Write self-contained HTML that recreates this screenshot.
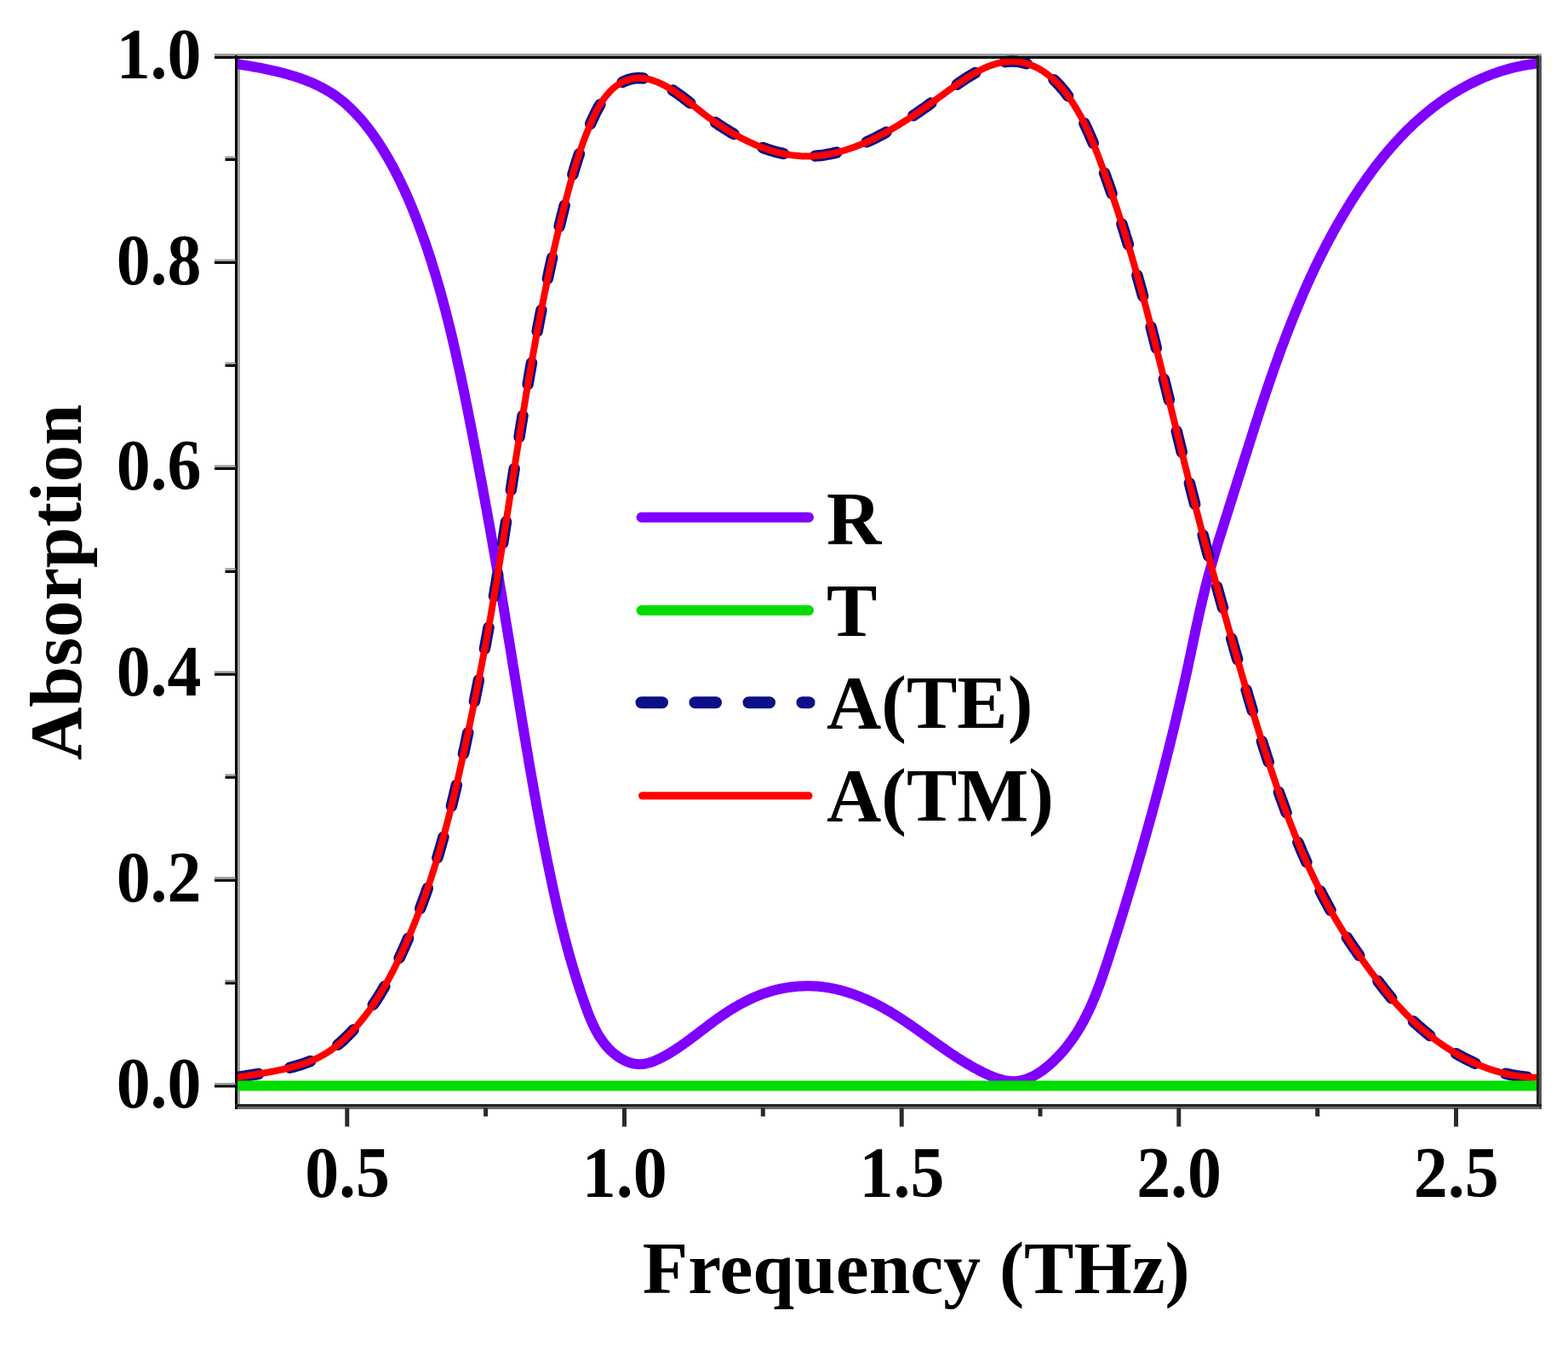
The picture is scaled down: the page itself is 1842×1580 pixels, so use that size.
<!DOCTYPE html>
<html><head><meta charset="utf-8"><title>Absorption spectrum</title>
<style>html,body{margin:0;padding:0;background:#fff;width:1842px;height:1580px;overflow:hidden}svg{display:block}</style>
</head><body>
<svg width="1842" height="1580" viewBox="0 0 1842 1580">
<rect width="1842" height="1580" fill="#fff"/>
<defs><clipPath id="c"><rect x="277" y="56.0" width="1531" height="1243.5"/></clipPath></defs>
<g shape-rendering="crispEdges">
<rect x="252" y="63" width="1559" height="2.6" fill="#9a9a9a"/>
<rect x="279" y="68" width="2.6" height="1229" fill="#a0a0a0"/>
<rect x="279" y="1300" width="1532" height="2.8" fill="#6a6a6a"/>
<rect x="1808" y="66" width="3" height="1236.8" fill="#555"/>
</g>
<g clip-path="url(#c)" fill="none" stroke-linejoin="round">
<path d="M278.1,75.1 280.3,75.5 282.5,75.8 284.8,76.2 287.0,76.6 289.2,76.9 291.5,77.3 293.7,77.7 296.0,78.1 298.3,78.5 300.5,78.9 302.8,79.3 305.1,79.7 307.4,80.2 309.7,80.6 312.0,81.1 314.3,81.6 316.6,82.1 318.9,82.6 321.2,83.1 323.5,83.6 325.7,84.1 328.0,84.7 330.3,85.3 332.6,85.9 334.9,86.5 337.2,87.1 339.4,87.7 341.7,88.4 343.9,89.1 346.2,89.8 348.4,90.5 350.6,91.2 352.9,92.0 355.1,92.8 357.3,93.6 359.5,94.4 361.6,95.3 363.8,96.2 365.9,97.1 368.1,98.0 370.2,99.0 372.3,99.9 374.4,101.0 376.4,102.0 378.5,103.1 380.5,104.1 382.5,105.3 384.5,106.4 386.5,107.6 388.4,108.8 390.4,110.1 392.3,111.3 394.2,112.6 396.0,114.0 397.9,115.4 399.7,116.8 401.5,118.2 403.3,119.6 405.0,121.1 406.7,122.6 408.5,124.2 410.2,125.7 411.8,127.3 413.5,128.9 415.1,130.5 416.7,132.2 418.3,133.9 419.9,135.5 421.5,137.3 423.0,139.0 424.6,140.8 426.1,142.5 427.6,144.3 429.0,146.1 430.5,148.0 431.9,149.8 433.4,151.6 434.8,153.5 436.2,155.4 437.5,157.3 438.9,159.2 440.2,161.1 441.6,163.1 442.9,165.0 444.2,167.0 445.5,168.9 446.8,170.9 448.0,172.9 449.3,174.9 450.5,176.8 451.7,178.8 452.9,180.9 454.1,182.9 455.3,184.9 456.4,186.9 457.6,188.9 458.7,191.0 459.9,193.0 461.0,195.0 462.1,197.1 463.2,199.1 464.3,201.2 465.3,203.3 466.4,205.3 467.4,207.4 468.5,209.5 469.5,211.6 470.5,213.7 471.5,215.8 472.5,217.9 473.5,220.0 474.5,222.1 475.5,224.2 476.4,226.3 477.4,228.4 478.3,230.5 479.2,232.6 480.2,234.8 481.1,236.9 482.0,239.0 482.9,241.2 483.8,243.3 484.6,245.5 485.5,247.6 486.4,249.8 487.2,251.9 488.1,254.1 488.9,256.2 489.7,258.4 490.6,260.6 491.4,262.7 492.2,264.9 493.0,267.1 493.8,269.3 494.6,271.4 495.4,273.6 496.2,275.8 497.0,278.0 497.7,280.2 498.5,282.4 499.3,284.5 500.0,286.7 500.8,288.9 501.5,291.1 502.3,293.3 503.0,295.5 503.7,297.7 504.4,299.9 505.1,302.1 505.9,304.3 506.6,306.5 507.3,308.7 508.0,311.0 508.6,313.2 509.3,315.4 510.0,317.6 510.7,319.8 511.4,322.0 512.0,324.3 512.7,326.5 513.3,328.7 514.0,330.9 514.6,333.2 515.3,335.4 515.9,337.6 516.5,339.9 517.2,342.1 517.8,344.3 518.4,346.6 519.0,348.8 519.6,351.1 520.2,353.3 520.8,355.5 521.4,357.8 522.0,360.0 522.6,362.3 523.2,364.5 523.8,366.8 524.4,369.0 524.9,371.3 525.5,373.5 526.1,375.8 526.6,378.0 527.2,380.3 527.8,382.5 528.3,384.8 528.9,387.1 529.4,389.3 530.0,391.6 530.5,393.8 531.0,396.1 531.6,398.4 532.1,400.6 532.6,402.9 533.1,405.2 533.7,407.4 534.2,409.7 534.7,412.0 535.2,414.2 535.7,416.5 536.2,418.8 536.7,421.1 537.2,423.3 537.7,425.6 538.2,427.9 538.7,430.2 539.2,432.4 539.7,434.7 540.2,437.0 540.7,439.3 541.2,441.5 541.7,443.8 542.1,446.1 542.6,448.4 543.1,450.6 543.6,452.9 544.0,455.2 544.5,457.5 545.0,459.8 545.4,462.0 545.9,464.3 546.4,466.6 546.8,468.9 547.3,471.2 547.7,473.5 548.2,475.7 548.7,478.0 549.1,480.3 549.6,482.6 550.0,484.9 550.5,487.2 550.9,489.4 551.4,491.7 551.8,494.0 552.3,496.3 552.7,498.6 553.2,500.9 553.6,503.1 554.1,505.4 554.5,507.7 554.9,510.0 555.4,512.3 555.8,514.6 556.3,516.8 556.7,519.1 557.1,521.4 557.6,523.7 558.0,526.0 558.5,528.2 558.9,530.5 559.3,532.8 559.8,535.1 560.2,537.4 560.6,539.7 561.1,541.9 561.5,544.2 561.9,546.5 562.4,548.8 562.8,551.1 563.2,553.4 563.7,555.6 564.1,557.9 564.5,560.2 564.9,562.5 565.4,564.8 565.8,567.0 566.2,569.3 566.6,571.6 567.1,573.9 567.5,576.2 567.9,578.5 568.3,580.7 568.7,583.0 569.2,585.3 569.6,587.6 570.0,589.9 570.4,592.2 570.8,594.4 571.3,596.7 571.7,599.0 572.1,601.3 572.5,603.6 572.9,605.8 573.3,608.1 573.7,610.4 574.1,612.7 574.6,615.0 575.0,617.3 575.4,619.6 575.8,621.8 576.2,624.1 576.6,626.4 577.0,628.7 577.4,631.0 577.8,633.3 578.2,635.5 578.6,637.8 579.0,640.1 579.4,642.4 579.8,644.7 580.2,647.0 580.6,649.3 581.0,651.5 581.4,653.8 581.8,656.1 582.2,658.4 582.6,660.7 583.0,663.0 583.4,665.3 583.8,667.6 584.2,669.8 584.6,672.1 585.0,674.4 585.4,676.7 585.8,679.0 586.2,681.3 586.6,683.6 586.9,685.9 587.3,688.1 587.7,690.4 588.1,692.7 588.5,695.0 588.9,697.3 589.3,699.6 589.7,701.9 590.0,704.2 590.4,706.5 590.8,708.8 591.2,711.1 591.6,713.4 591.9,715.6 592.3,717.9 592.7,720.2 593.1,722.5 593.5,724.8 593.8,727.1 594.2,729.4 594.6,731.7 595.0,734.0 595.4,736.3 595.7,738.6 596.1,740.9 596.5,743.2 596.9,745.5 597.2,747.8 597.6,750.1 598.0,752.4 598.3,754.7 598.7,756.9 599.1,759.2 599.5,761.5 599.8,763.8 600.2,766.1 600.6,768.4 601.0,770.7 601.3,773.0 601.7,775.3 602.1,777.6 602.4,779.9 602.8,782.2 603.2,784.5 603.6,786.8 603.9,789.1 604.3,791.4 604.7,793.7 605.0,796.0 605.4,798.3 605.8,800.6 606.2,802.9 606.5,805.2 606.9,807.5 607.3,809.8 607.6,812.1 608.0,814.4 608.4,816.7 608.8,819.0 609.1,821.3 609.5,823.6 609.9,825.9 610.3,828.2 610.6,830.5 611.0,832.8 611.4,835.0 611.8,837.3 612.1,839.6 612.5,841.9 612.9,844.2 613.3,846.5 613.6,848.8 614.0,851.1 614.4,853.4 614.8,855.7 615.2,858.0 615.5,860.3 615.9,862.6 616.3,864.9 616.7,867.2 617.1,869.5 617.5,871.8 617.8,874.1 618.2,876.4 618.6,878.7 619.0,881.0 619.4,883.2 619.8,885.5 620.2,887.8 620.6,890.1 620.9,892.4 621.3,894.7 621.7,897.0 622.1,899.3 622.5,901.6 622.9,903.9 623.3,906.2 623.7,908.5 624.1,910.7 624.5,913.0 624.9,915.3 625.3,917.6 625.7,919.9 626.1,922.2 626.5,924.5 626.9,926.8 627.3,929.1 627.7,931.3 628.1,933.6 628.6,935.9 629.0,938.2 629.4,940.5 629.8,942.8 630.2,945.1 630.6,947.3 631.0,949.6 631.5,951.9 631.9,954.2 632.3,956.5 632.7,958.8 633.1,961.0 633.6,963.3 634.0,965.6 634.4,967.9 634.9,970.2 635.3,972.4 635.7,974.7 636.2,977.0 636.6,979.3 637.0,981.6 637.5,983.8 637.9,986.1 638.4,988.4 638.8,990.7 639.2,992.9 639.7,995.2 640.1,997.5 640.6,999.8 641.0,1002.0 641.5,1004.3 642.0,1006.6 642.4,1008.9 642.9,1011.1 643.3,1013.4 643.8,1015.7 644.3,1017.9 644.7,1020.2 645.2,1022.5 645.7,1024.7 646.1,1027.0 646.6,1029.3 647.1,1031.5 647.6,1033.8 648.1,1036.1 648.5,1038.3 649.0,1040.6 649.5,1042.8 650.0,1045.1 650.5,1047.4 651.0,1049.6 651.5,1051.9 652.0,1054.1 652.5,1056.4 653.0,1058.7 653.5,1060.9 654.0,1063.2 654.5,1065.4 655.1,1067.7 655.6,1069.9 656.1,1072.2 656.7,1074.5 657.2,1076.7 657.7,1079.0 658.3,1081.2 658.8,1083.5 659.4,1085.7 659.9,1088.0 660.5,1090.2 661.0,1092.5 661.6,1094.7 662.2,1097.0 662.8,1099.2 663.3,1101.4 663.9,1103.7 664.5,1105.9 665.1,1108.2 665.7,1110.4 666.3,1112.7 666.9,1114.9 667.5,1117.1 668.1,1119.4 668.8,1121.6 669.4,1123.9 670.0,1126.1 670.7,1128.3 671.3,1130.6 672.0,1132.8 672.6,1135.1 673.3,1137.3 674.0,1139.5 674.6,1141.8 675.3,1144.0 676.0,1146.2 676.7,1148.5 677.4,1150.7 678.1,1152.9 678.8,1155.2 679.5,1157.4 680.3,1159.6 681.0,1161.9 681.7,1164.1 682.5,1166.3 683.2,1168.5 684.0,1170.8 684.7,1173.0 685.5,1175.2 686.3,1177.4 687.1,1179.7 687.9,1181.9 688.7,1184.1 689.5,1186.3 690.3,1188.5 691.2,1190.7 692.0,1192.9 692.9,1195.1 693.8,1197.3 694.7,1199.4 695.7,1201.6 696.7,1203.7 697.7,1205.8 698.7,1207.9 699.8,1209.9 700.8,1212.0 702.0,1214.0 703.1,1215.9 704.3,1217.9 705.6,1219.8 706.9,1221.7 708.2,1223.6 709.6,1225.4 711.0,1227.2 712.4,1228.9 714.0,1230.6 715.5,1232.3 717.1,1233.9 718.8,1235.5 720.5,1237.0 722.3,1238.5 724.2,1239.9 726.1,1241.3 728.0,1242.6 730.0,1243.8 732.1,1244.9 734.2,1246.0 736.3,1246.9 738.4,1247.8 740.6,1248.5 742.8,1249.1 745.0,1249.6 747.2,1249.9 749.4,1250.1 751.6,1250.2 753.8,1250.1 756.1,1249.9 758.3,1249.5 760.5,1249.0 762.7,1248.5 764.9,1247.8 767.1,1247.0 769.3,1246.2 771.4,1245.2 773.6,1244.2 775.7,1243.2 777.8,1242.1 779.9,1241.0 782.0,1239.9 784.1,1238.7 786.1,1237.5 788.1,1236.3 790.1,1235.0 792.1,1233.8 794.1,1232.5 796.0,1231.2 798.0,1229.9 799.9,1228.6 801.8,1227.3 803.7,1225.9 805.6,1224.6 807.4,1223.2 809.3,1221.9 811.2,1220.5 813.0,1219.1 814.9,1217.7 816.7,1216.3 818.6,1214.9 820.4,1213.5 822.2,1212.1 824.1,1210.7 825.9,1209.3 827.8,1207.9 829.6,1206.5 831.5,1205.1 833.3,1203.7 835.2,1202.3 837.0,1200.9 838.9,1199.5 840.8,1198.1 842.7,1196.8 844.6,1195.4 846.5,1194.1 848.4,1192.8 850.4,1191.5 852.3,1190.2 854.3,1188.9 856.2,1187.6 858.2,1186.4 860.2,1185.2 862.2,1183.9 864.2,1182.8 866.3,1181.6 868.3,1180.4 870.4,1179.3 872.4,1178.2 874.5,1177.1 876.6,1176.0 878.7,1175.0 880.8,1174.0 882.9,1173.0 885.0,1172.0 887.1,1171.1 889.3,1170.2 891.4,1169.3 893.6,1168.5 895.8,1167.7 898.0,1166.9 900.2,1166.2 902.4,1165.5 904.6,1164.8 906.8,1164.1 909.0,1163.5 911.3,1162.9 913.5,1162.4 915.7,1161.9 918.0,1161.4 920.3,1161.0 922.5,1160.5 924.8,1160.2 927.1,1159.8 929.4,1159.5 931.7,1159.2 933.9,1159.0 936.2,1158.8 938.5,1158.6 940.8,1158.5 943.1,1158.4 945.4,1158.3 947.7,1158.3 950.0,1158.3 952.3,1158.3 954.7,1158.4 957.0,1158.5 959.3,1158.6 961.6,1158.8 963.9,1159.0 966.2,1159.3 968.5,1159.6 970.8,1159.9 973.0,1160.3 975.3,1160.6 977.6,1161.1 979.9,1161.5 982.2,1162.0 984.4,1162.6 986.7,1163.1 989.0,1163.7 991.2,1164.4 993.5,1165.0 995.7,1165.7 997.9,1166.4 1000.2,1167.2 1002.4,1167.9 1004.6,1168.7 1006.8,1169.6 1009.0,1170.4 1011.2,1171.3 1013.3,1172.2 1015.5,1173.1 1017.7,1174.0 1019.8,1175.0 1021.9,1176.0 1024.1,1177.0 1026.2,1178.0 1028.3,1179.1 1030.4,1180.1 1032.5,1181.2 1034.5,1182.3 1036.6,1183.4 1038.6,1184.6 1040.6,1185.7 1042.7,1186.9 1044.7,1188.0 1046.7,1189.2 1048.6,1190.4 1050.6,1191.6 1052.6,1192.9 1054.5,1194.1 1056.5,1195.3 1058.4,1196.6 1060.3,1197.9 1062.3,1199.1 1064.2,1200.4 1066.1,1201.7 1068.0,1203.0 1069.9,1204.3 1071.8,1205.6 1073.7,1206.9 1075.6,1208.3 1077.5,1209.6 1079.3,1210.9 1081.2,1212.3 1083.1,1213.6 1085.0,1214.9 1086.8,1216.3 1088.7,1217.6 1090.6,1219.0 1092.5,1220.3 1094.4,1221.7 1096.2,1223.0 1098.1,1224.3 1100.0,1225.7 1101.9,1227.0 1103.8,1228.3 1105.7,1229.7 1107.6,1231.0 1109.5,1232.3 1111.4,1233.6 1113.3,1235.0 1115.2,1236.3 1117.1,1237.6 1119.1,1238.8 1121.0,1240.1 1123.0,1241.4 1124.9,1242.7 1126.9,1243.9 1128.9,1245.2 1130.9,1246.4 1132.9,1247.6 1134.9,1248.8 1136.9,1250.0 1138.9,1251.2 1141.0,1252.4 1143.0,1253.6 1145.1,1254.7 1147.2,1255.8 1149.3,1257.0 1151.4,1258.0 1153.6,1259.1 1155.7,1260.2 1157.9,1261.2 1160.1,1262.2 1162.2,1263.2 1164.4,1264.1 1166.6,1265.0 1168.9,1265.9 1171.1,1266.7 1173.3,1267.4 1175.5,1268.0 1177.7,1268.6 1180.0,1269.1 1182.2,1269.5 1184.4,1269.8 1186.6,1270.0 1188.8,1270.2 1191.0,1270.2 1193.2,1270.1 1195.4,1269.9 1197.5,1269.6 1199.7,1269.2 1201.8,1268.7 1204.0,1268.1 1206.1,1267.4 1208.2,1266.6 1210.2,1265.7 1212.3,1264.8 1214.3,1263.8 1216.4,1262.7 1218.4,1261.5 1220.4,1260.3 1222.3,1259.0 1224.3,1257.7 1226.2,1256.3 1228.1,1254.8 1229.9,1253.3 1231.8,1251.8 1233.6,1250.2 1235.4,1248.6 1237.2,1247.0 1238.9,1245.3 1240.6,1243.6 1242.3,1241.9 1243.9,1240.2 1245.5,1238.4 1247.1,1236.7 1248.7,1234.9 1250.2,1233.1 1251.7,1231.3 1253.2,1229.5 1254.6,1227.6 1256.0,1225.8 1257.4,1223.9 1258.8,1222.0 1260.1,1220.1 1261.5,1218.2 1262.7,1216.3 1264.0,1214.4 1265.3,1212.4 1266.5,1210.5 1267.7,1208.5 1268.9,1206.5 1270.0,1204.5 1271.1,1202.5 1272.3,1200.5 1273.4,1198.5 1274.4,1196.4 1275.5,1194.4 1276.5,1192.3 1277.5,1190.2 1278.5,1188.2 1279.5,1186.1 1280.5,1184.0 1281.5,1181.9 1282.4,1179.8 1283.3,1177.7 1284.2,1175.5 1285.1,1173.4 1286.0,1171.3 1286.9,1169.1 1287.7,1167.0 1288.6,1164.8 1289.4,1162.6 1290.2,1160.5 1291.1,1158.3 1291.9,1156.1 1292.7,1153.9 1293.4,1151.7 1294.2,1149.6 1295.0,1147.4 1295.7,1145.2 1296.5,1143.0 1297.3,1140.7 1298.0,1138.5 1298.7,1136.3 1299.5,1134.1 1300.2,1131.9 1300.9,1129.7 1301.7,1127.5 1302.4,1125.2 1303.1,1123.0 1303.8,1120.8 1304.5,1118.6 1305.2,1116.4 1305.9,1114.2 1306.7,1111.9 1307.4,1109.7 1308.1,1107.5 1308.8,1105.3 1309.5,1103.0 1310.2,1100.8 1310.9,1098.6 1311.6,1096.4 1312.3,1094.2 1313.0,1091.9 1313.7,1089.7 1314.4,1087.5 1315.1,1085.3 1315.8,1083.1 1316.5,1080.8 1317.2,1078.6 1317.9,1076.4 1318.6,1074.2 1319.2,1071.9 1319.9,1069.7 1320.6,1067.5 1321.3,1065.3 1322.0,1063.0 1322.7,1060.8 1323.3,1058.6 1324.0,1056.4 1324.7,1054.1 1325.4,1051.9 1326.0,1049.7 1326.7,1047.5 1327.4,1045.2 1328.1,1043.0 1328.7,1040.8 1329.4,1038.6 1330.1,1036.3 1330.7,1034.1 1331.4,1031.9 1332.0,1029.6 1332.7,1027.4 1333.4,1025.2 1334.0,1023.0 1334.7,1020.7 1335.3,1018.5 1336.0,1016.3 1336.6,1014.0 1337.3,1011.8 1337.9,1009.6 1338.6,1007.3 1339.2,1005.1 1339.9,1002.9 1340.5,1000.7 1341.2,998.4 1341.8,996.2 1342.4,994.0 1343.1,991.7 1343.7,989.5 1344.3,987.3 1345.0,985.0 1345.6,982.8 1346.2,980.6 1346.9,978.3 1347.5,976.1 1348.1,973.8 1348.7,971.6 1349.4,969.4 1350.0,967.1 1350.6,964.9 1351.2,962.7 1351.8,960.4 1352.5,958.2 1353.1,955.9 1353.7,953.7 1354.3,951.5 1354.9,949.2 1355.5,947.0 1356.1,944.8 1356.7,942.5 1357.3,940.3 1357.9,938.0 1358.5,935.8 1359.1,933.5 1359.7,931.3 1360.3,929.1 1360.9,926.8 1361.5,924.6 1362.1,922.3 1362.7,920.1 1363.3,917.8 1363.9,915.6 1364.4,913.3 1365.0,911.1 1365.6,908.9 1366.2,906.6 1366.8,904.4 1367.4,902.1 1367.9,899.9 1368.5,897.6 1369.1,895.4 1369.6,893.1 1370.2,890.9 1370.8,888.6 1371.3,886.4 1371.9,884.1 1372.5,881.9 1373.0,879.6 1373.6,877.4 1374.2,875.1 1374.7,872.9 1375.3,870.6 1375.8,868.3 1376.4,866.1 1376.9,863.8 1377.5,861.6 1378.0,859.3 1378.6,857.1 1379.1,854.8 1379.7,852.6 1380.2,850.3 1380.7,848.0 1381.3,845.8 1381.8,843.5 1382.3,841.3 1382.9,839.0 1383.4,836.7 1383.9,834.5 1384.5,832.2 1385.0,830.0 1385.5,827.7 1386.0,825.4 1386.6,823.2 1387.1,820.9 1387.6,818.6 1388.1,816.4 1388.6,814.1 1389.1,811.8 1389.7,809.6 1390.2,807.3 1390.7,805.0 1391.2,802.8 1391.7,800.5 1392.2,798.2 1392.7,796.0 1393.2,793.7 1393.7,791.4 1394.2,789.1 1394.7,786.9 1395.2,784.6 1395.7,782.3 1396.2,780.0 1396.6,777.8 1397.1,775.5 1397.6,773.2 1398.1,770.9 1398.6,768.7 1399.1,766.4 1399.5,764.1 1400.0,761.8 1400.5,759.6 1401.0,757.3 1401.5,755.0 1401.9,752.7 1402.4,750.4 1402.9,748.2 1403.4,745.9 1403.9,743.6 1404.4,741.3 1404.8,739.1 1405.3,736.8 1405.8,734.5 1406.3,732.2 1406.8,730.0 1407.3,727.7 1407.8,725.4 1408.3,723.1 1408.8,720.9 1409.3,718.6 1409.8,716.3 1410.3,714.1 1410.9,711.8 1411.4,709.5 1411.9,707.3 1412.4,705.0 1413.0,702.7 1413.5,700.5 1414.1,698.2 1414.6,695.9 1415.2,693.7 1415.7,691.4 1416.3,689.2 1416.9,686.9 1417.5,684.7 1418.0,682.4 1418.6,680.2 1419.2,677.9 1419.8,675.7 1420.4,673.4 1421.1,671.2 1421.7,669.0 1422.3,666.7 1422.9,664.5 1423.6,662.3 1424.2,660.0 1424.9,657.8 1425.5,655.6 1426.2,653.3 1426.8,651.1 1427.5,648.9 1428.1,646.6 1428.8,644.4 1429.5,642.2 1430.2,640.0 1430.8,637.8 1431.5,635.5 1432.2,633.3 1432.9,631.1 1433.6,628.9 1434.3,626.7 1435.0,624.4 1435.7,622.2 1436.4,620.0 1437.1,617.8 1437.8,615.6 1438.5,613.4 1439.2,611.1 1439.9,608.9 1440.6,606.7 1441.3,604.5 1442.0,602.3 1442.7,600.1 1443.4,597.9 1444.1,595.6 1444.8,593.4 1445.5,591.2 1446.2,589.0 1446.9,586.8 1447.6,584.6 1448.3,582.4 1449.0,580.1 1449.7,577.9 1450.4,575.7 1451.1,573.5 1451.8,571.3 1452.5,569.1 1453.2,566.9 1453.9,564.6 1454.6,562.4 1455.3,560.2 1456.0,558.0 1456.7,555.8 1457.4,553.6 1458.1,551.4 1458.8,549.2 1459.5,546.9 1460.2,544.7 1460.9,542.5 1461.6,540.3 1462.3,538.1 1463.0,535.9 1463.7,533.7 1464.4,531.4 1465.1,529.2 1465.8,527.0 1466.5,524.8 1467.2,522.6 1467.9,520.4 1468.6,518.2 1469.3,516.0 1470.0,513.8 1470.7,511.5 1471.4,509.3 1472.1,507.1 1472.8,504.9 1473.5,502.7 1474.2,500.5 1474.9,498.3 1475.6,496.1 1476.3,493.9 1477.1,491.7 1477.8,489.5 1478.5,487.2 1479.2,485.0 1479.9,482.8 1480.7,480.6 1481.4,478.4 1482.1,476.2 1482.8,474.0 1483.6,471.8 1484.3,469.6 1485.0,467.4 1485.8,465.2 1486.5,463.0 1487.2,460.8 1488.0,458.6 1488.7,456.4 1489.5,454.2 1490.2,452.0 1491.0,449.8 1491.7,447.6 1492.5,445.4 1493.2,443.2 1494.0,441.0 1494.8,438.8 1495.5,436.6 1496.3,434.4 1497.1,432.2 1497.8,430.0 1498.6,427.8 1499.4,425.7 1500.2,423.5 1501.0,421.3 1501.7,419.1 1502.5,416.9 1503.3,414.7 1504.1,412.5 1504.9,410.3 1505.7,408.1 1506.5,406.0 1507.4,403.8 1508.2,401.6 1509.0,399.4 1509.8,397.2 1510.6,395.1 1511.5,392.9 1512.3,390.7 1513.1,388.5 1514.0,386.4 1514.8,384.2 1515.7,382.0 1516.5,379.9 1517.4,377.7 1518.2,375.5 1519.1,373.4 1520.0,371.2 1520.8,369.1 1521.7,366.9 1522.6,364.8 1523.5,362.6 1524.4,360.4 1525.3,358.3 1526.2,356.2 1527.1,354.0 1528.0,351.9 1528.9,349.7 1529.8,347.6 1530.7,345.5 1531.6,343.3 1532.6,341.2 1533.5,339.1 1534.4,336.9 1535.4,334.8 1536.3,332.7 1537.3,330.6 1538.3,328.4 1539.2,326.3 1540.2,324.2 1541.2,322.1 1542.2,320.0 1543.1,317.9 1544.1,315.8 1545.1,313.7 1546.1,311.6 1547.1,309.5 1548.2,307.4 1549.2,305.3 1550.2,303.3 1551.2,301.2 1552.3,299.1 1553.3,297.0 1554.4,295.0 1555.4,292.9 1556.5,290.8 1557.5,288.8 1558.6,286.7 1559.7,284.6 1560.8,282.6 1561.9,280.5 1563.0,278.5 1564.1,276.5 1565.2,274.4 1566.3,272.4 1567.4,270.4 1568.5,268.3 1569.7,266.3 1570.8,264.3 1572.0,262.3 1573.1,260.3 1574.3,258.3 1575.5,256.3 1576.6,254.3 1577.8,252.3 1579.0,250.3 1580.2,248.3 1581.4,246.3 1582.6,244.3 1583.8,242.3 1585.1,240.4 1586.3,238.4 1587.5,236.4 1588.8,234.5 1590.0,232.5 1591.3,230.6 1592.6,228.6 1593.8,226.7 1595.1,224.8 1596.4,222.8 1597.7,220.9 1599.0,219.0 1600.3,217.1 1601.7,215.1 1603.0,213.2 1604.3,211.3 1605.7,209.4 1607.0,207.5 1608.4,205.7 1609.8,203.8 1611.1,201.9 1612.5,200.0 1613.9,198.2 1615.3,196.3 1616.7,194.5 1618.2,192.6 1619.6,190.8 1621.0,189.0 1622.5,187.2 1624.0,185.3 1625.4,183.5 1626.9,181.8 1628.4,180.0 1629.9,178.2 1631.4,176.4 1632.9,174.7 1634.4,172.9 1635.9,171.2 1637.5,169.4 1639.0,167.7 1640.6,166.0 1642.2,164.3 1643.8,162.6 1645.3,160.9 1646.9,159.2 1648.6,157.5 1650.2,155.9 1651.8,154.2 1653.4,152.6 1655.1,151.0 1656.8,149.4 1658.4,147.8 1660.1,146.2 1661.8,144.6 1663.5,143.0 1665.2,141.5 1667.0,139.9 1668.7,138.4 1670.4,136.9 1672.2,135.4 1674.0,133.9 1675.8,132.4 1677.5,130.9 1679.4,129.5 1681.2,128.1 1683.0,126.6 1684.8,125.2 1686.7,123.8 1688.5,122.4 1690.4,121.1 1692.3,119.7 1694.2,118.4 1696.1,117.0 1698.0,115.7 1700.0,114.4 1701.9,113.2 1703.9,111.9 1705.8,110.6 1707.8,109.4 1709.8,108.2 1711.8,107.0 1713.8,105.8 1715.9,104.6 1717.9,103.5 1719.9,102.4 1722.0,101.2 1724.1,100.2 1726.1,99.1 1728.2,98.0 1730.3,97.0 1732.4,96.0 1734.5,95.0 1736.7,94.0 1738.8,93.0 1740.9,92.1 1743.1,91.1 1745.2,90.2 1747.4,89.4 1749.6,88.5 1751.7,87.7 1753.9,86.8 1756.1,86.1 1758.3,85.3 1760.5,84.5 1762.7,83.8 1764.9,83.1 1767.2,82.4 1769.4,81.8 1771.6,81.1 1773.8,80.5 1776.1,79.9 1778.3,79.4 1780.6,78.8 1782.8,78.3 1785.1,77.8 1787.4,77.4 1789.6,76.9 1791.9,76.5 1794.2,76.1 1796.4,75.8 1798.7,75.5 1801.0,75.2 1803.3,74.9 1805.5,74.6 1807.8,74.4" stroke="#8000FF" stroke-width="12"/>
<path d="M278.5,1265.5 280.8,1265.2 283.1,1264.8 285.4,1264.4 287.7,1264.1 290.0,1263.7 292.2,1263.3 294.5,1263.0 296.8,1262.6 299.1,1262.3 301.4,1261.9 303.7,1261.5 306.0,1261.2 308.3,1260.8 310.6,1260.4 312.8,1260.0 315.1,1259.6 317.4,1259.2 319.7,1258.8 322.0,1258.3 324.3,1257.9 326.5,1257.4 328.8,1256.9 331.1,1256.5 333.4,1256.0 335.6,1255.4 337.9,1254.9 340.2,1254.3 342.4,1253.7 344.7,1253.1 346.9,1252.5 349.2,1251.9 351.4,1251.2 353.7,1250.5 355.9,1249.8 358.1,1249.0 360.3,1248.2 362.5,1247.4 364.7,1246.5 366.8,1245.6 369.0,1244.7 371.1,1243.8 373.2,1242.8 375.3,1241.7 377.3,1240.6 379.4,1239.5 381.4,1238.3 383.4,1237.1 385.3,1235.9 387.3,1234.6 389.2,1233.3 391.0,1231.9 392.9,1230.5 394.7,1229.1 396.5,1227.6 398.3,1226.1 400.1,1224.6 401.8,1223.0 403.6,1221.5 405.3,1219.9 406.9,1218.2 408.6,1216.6 410.2,1214.9 411.9,1213.3 413.5,1211.6 415.0,1209.9 416.6,1208.1 418.1,1206.4 419.7,1204.7 421.2,1202.9 422.7,1201.1 424.1,1199.4 425.6,1197.6 427.0,1195.8 428.5,1193.9 429.9,1192.1 431.2,1190.3 432.6,1188.4 434.0,1186.6 435.3,1184.7 436.6,1182.8 437.9,1180.9 439.2,1179.0 440.5,1177.1 441.8,1175.2 443.0,1173.2 444.3,1171.3 445.5,1169.3 446.7,1167.4 447.9,1165.4 449.1,1163.4 450.3,1161.4 451.4,1159.4 452.6,1157.4 453.7,1155.4 454.8,1153.4 455.9,1151.4 457.0,1149.4 458.1,1147.3 459.2,1145.3 460.3,1143.2 461.4,1141.2 462.4,1139.1 463.4,1137.1 464.5,1135.0 465.5,1132.9 466.5,1130.8 467.5,1128.8 468.5,1126.7 469.5,1124.6 470.5,1122.5 471.5,1120.4 472.4,1118.3 473.4,1116.2 474.4,1114.1 475.3,1111.9 476.2,1109.8 477.2,1107.7 478.1,1105.6 479.0,1103.5 479.9,1101.3 480.9,1099.2 481.8,1097.1 482.7,1094.9 483.6,1092.8 484.4,1090.7 485.3,1088.5 486.2,1086.4 487.1,1084.2 487.9,1082.1 488.8,1079.9 489.6,1077.8 490.5,1075.6 491.3,1073.5 492.2,1071.3 493.0,1069.1 493.8,1067.0 494.6,1064.8 495.4,1062.6 496.2,1060.5 497.0,1058.3 497.8,1056.1 498.6,1053.9 499.4,1051.8 500.2,1049.6 500.9,1047.4 501.7,1045.2 502.5,1043.0 503.2,1040.8 504.0,1038.6 504.7,1036.5 505.4,1034.3 506.2,1032.1 506.9,1029.9 507.6,1027.7 508.3,1025.5 509.0,1023.3 509.7,1021.0 510.4,1018.8 511.1,1016.6 511.8,1014.4 512.5,1012.2 513.2,1010.0 513.8,1007.8 514.5,1005.6 515.2,1003.3 515.8,1001.1 516.5,998.9 517.1,996.7 517.8,994.4 518.4,992.2 519.0,990.0 519.7,987.7 520.3,985.5 520.9,983.3 521.5,981.0 522.1,978.8 522.7,976.6 523.3,974.3 523.9,972.1 524.5,969.9 525.1,967.6 525.7,965.4 526.3,963.1 526.9,960.9 527.5,958.6 528.0,956.4 528.6,954.1 529.2,951.9 529.7,949.6 530.3,947.4 530.8,945.1 531.4,942.9 531.9,940.6 532.5,938.4 533.0,936.1 533.6,933.8 534.1,931.6 534.6,929.3 535.2,927.1 535.7,924.8 536.2,922.5 536.7,920.3 537.3,918.0 537.8,915.8 538.3,913.5 538.8,911.2 539.3,909.0 539.8,906.7 540.3,904.4 540.8,902.2 541.3,899.9 541.8,897.6 542.3,895.3 542.8,893.1 543.3,890.8 543.8,888.5 544.3,886.3 544.8,884.0 545.3,881.7 545.8,879.5 546.3,877.2 546.8,874.9 547.3,872.6 547.7,870.4 548.2,868.1 548.7,865.8 549.2,863.5 549.7,861.3 550.1,859.0 550.6,856.7 551.1,854.4 551.6,852.2 552.1,849.9 552.5,847.6 553.0,845.3 553.5,843.1 553.9,840.8 554.4,838.5 554.9,836.2 555.3,834.0 555.8,831.7 556.3,829.4 556.7,827.1 557.2,824.9 557.7,822.6 558.1,820.3 558.6,818.0 559.0,815.8 559.5,813.5 560.0,811.2 560.4,808.9 560.9,806.6 561.3,804.4 561.8,802.1 562.2,799.8 562.7,797.5 563.1,795.3 563.5,793.0 564.0,790.7 564.4,788.4 564.9,786.1 565.3,783.9 565.8,781.6 566.2,779.3 566.6,777.0 567.1,774.7 567.5,772.5 567.9,770.2 568.4,767.9 568.8,765.6 569.2,763.3 569.6,761.0 570.1,758.8 570.5,756.5 570.9,754.2 571.3,751.9 571.7,749.6 572.2,747.3 572.6,745.1 573.0,742.8 573.4,740.5 573.8,738.2 574.2,735.9 574.6,733.6 575.0,731.4 575.4,729.1 575.9,726.8 576.3,724.5 576.7,722.2 577.1,719.9 577.5,717.7 577.8,715.4 578.2,713.1 578.6,710.8 579.0,708.5 579.4,706.2 579.8,703.9 580.2,701.6 580.6,699.4 581.0,697.1 581.4,694.8 581.7,692.5 582.1,690.2 582.5,687.9 582.9,685.6 583.3,683.3 583.6,681.1 584.0,678.8 584.4,676.5 584.8,674.2 585.1,671.9 585.5,669.6 585.9,667.3 586.3,665.0 586.6,662.7 587.0,660.5 587.4,658.2 587.7,655.9 588.1,653.6 588.5,651.3 588.8,649.0 589.2,646.7 589.6,644.4 589.9,642.1 590.3,639.8 590.7,637.6 591.0,635.3 591.4,633.0 591.8,630.7 592.1,628.4 592.5,626.1 592.8,623.8 593.2,621.5 593.5,619.2 593.9,616.9 594.3,614.6 594.6,612.4 595.0,610.1 595.3,607.8 595.7,605.5 596.0,603.2 596.4,600.9 596.8,598.6 597.1,596.3 597.5,594.0 597.8,591.7 598.2,589.4 598.5,587.1 598.9,584.8 599.2,582.6 599.6,580.3 600.0,578.0 600.3,575.7 600.7,573.4 601.0,571.1 601.4,568.8 601.7,566.5 602.1,564.2 602.4,561.9 602.8,559.6 603.1,557.3 603.5,555.0 603.9,552.7 604.2,550.5 604.6,548.2 604.9,545.9 605.3,543.6 605.6,541.3 606.0,539.0 606.4,536.7 606.7,534.4 607.1,532.1 607.4,529.8 607.8,527.5 608.1,525.2 608.5,522.9 608.9,520.6 609.2,518.3 609.6,516.1 610.0,513.8 610.3,511.5 610.7,509.2 611.0,506.9 611.4,504.6 611.8,502.3 612.1,500.0 612.5,497.7 612.9,495.4 613.3,493.1 613.6,490.8 614.0,488.5 614.4,486.2 614.7,483.9 615.1,481.7 615.5,479.4 615.9,477.1 616.2,474.8 616.6,472.5 617.0,470.2 617.4,467.9 617.7,465.6 618.1,463.3 618.5,461.0 618.9,458.7 619.3,456.4 619.7,454.1 620.1,451.9 620.4,449.6 620.8,447.3 621.2,445.0 621.6,442.7 622.0,440.4 622.4,438.1 622.8,435.8 623.2,433.5 623.6,431.2 624.0,429.0 624.4,426.7 624.8,424.4 625.2,422.1 625.6,419.8 626.0,417.5 626.4,415.2 626.8,412.9 627.2,410.6 627.6,408.4 628.1,406.1 628.5,403.8 628.9,401.5 629.3,399.2 629.7,396.9 630.1,394.6 630.6,392.4 631.0,390.1 631.4,387.8 631.8,385.5 632.3,383.2 632.7,380.9 633.1,378.7 633.6,376.4 634.0,374.1 634.4,371.8 634.9,369.5 635.3,367.3 635.8,365.0 636.2,362.7 636.7,360.4 637.1,358.1 637.6,355.9 638.0,353.6 638.5,351.3 638.9,349.0 639.4,346.8 639.8,344.5 640.3,342.2 640.8,339.9 641.2,337.7 641.7,335.4 642.2,333.1 642.6,330.8 643.1,328.6 643.6,326.3 644.1,324.0 644.5,321.8 645.0,319.5 645.5,317.2 646.0,314.9 646.5,312.7 647.0,310.4 647.5,308.1 648.0,305.9 648.5,303.6 649.0,301.3 649.5,299.1 650.0,296.8 650.5,294.6 651.0,292.3 651.5,290.0 652.0,287.8 652.5,285.5 653.1,283.3 653.6,281.0 654.1,278.7 654.6,276.5 655.2,274.2 655.7,272.0 656.2,269.7 656.8,267.5 657.3,265.2 657.8,263.0 658.4,260.7 658.9,258.5 659.5,256.2 660.0,254.0 660.6,251.7 661.2,249.5 661.7,247.2 662.3,245.0 662.8,242.7 663.4,240.5 664.0,238.2 664.6,236.0 665.1,233.7 665.7,231.5 666.3,229.3 666.9,227.0 667.5,224.8 668.1,222.6 668.7,220.3 669.3,218.1 669.9,215.8 670.5,213.6 671.1,211.4 671.7,209.2 672.4,206.9 673.0,204.7 673.6,202.5 674.3,200.3 675.0,198.0 675.6,195.8 676.3,193.6 677.0,191.4 677.7,189.2 678.4,187.0 679.1,184.8 679.8,182.6 680.5,180.4 681.2,178.2 682.0,176.0 682.7,173.8 683.5,171.6 684.3,169.4 685.1,167.2 685.9,165.0 686.7,162.8 687.5,160.7 688.4,158.5 689.2,156.3 690.1,154.2 691.0,152.0 691.9,149.8 692.8,147.7 693.7,145.5 694.6,143.4 695.6,141.2 696.6,139.1 697.6,137.0 698.6,134.8 699.6,132.7 700.7,130.6 701.8,128.6 702.9,126.5 704.0,124.5 705.2,122.4 706.5,120.5 707.8,118.5 709.1,116.6 710.5,114.7 711.9,112.8 713.4,111.0 714.9,109.3 716.5,107.6 718.1,105.9 719.8,104.3 721.6,102.8 723.4,101.4 725.3,100.0 727.2,98.7 729.2,97.6 731.2,96.5 733.3,95.5 735.4,94.6 737.5,93.9 739.7,93.2 741.9,92.6 744.1,92.2 746.3,91.9 748.6,91.7 750.8,91.6 753.1,91.7 755.3,91.9 757.6,92.2 759.9,92.6 762.2,93.1 764.4,93.7 766.7,94.4 768.9,95.2 771.1,96.0 773.3,96.9 775.5,97.9 777.6,98.9 779.7,99.9 781.8,101.0 783.9,102.2 785.9,103.3 787.9,104.5 789.8,105.7 791.8,107.0 793.7,108.3 795.6,109.6 797.4,110.9 799.3,112.2 801.1,113.5 802.9,114.9 804.7,116.3 806.5,117.7 808.3,119.1 810.1,120.5 811.9,121.9 813.7,123.4 815.4,124.8 817.2,126.2 819.0,127.7 820.8,129.1 822.6,130.5 824.4,131.9 826.2,133.4 828.1,134.8 829.9,136.2 831.8,137.6 833.7,139.0 835.6,140.3 837.5,141.7 839.4,143.1 841.4,144.4 843.3,145.7 845.3,147.1 847.3,148.4 849.2,149.6 851.2,150.9 853.2,152.2 855.3,153.4 857.3,154.7 859.3,155.9 861.4,157.1 863.5,158.2 865.5,159.4 867.6,160.5 869.7,161.6 871.8,162.7 873.9,163.8 876.1,164.9 878.2,165.9 880.3,166.9 882.5,167.9 884.6,168.8 886.8,169.8 888.9,170.7 891.1,171.6 893.3,172.4 895.5,173.3 897.7,174.1 899.9,174.8 902.1,175.6 904.3,176.3 906.5,177.0 908.7,177.6 910.9,178.3 913.2,178.8 915.4,179.4 917.6,179.9 919.9,180.4 922.1,180.9 924.3,181.3 926.6,181.7 928.8,182.1 931.1,182.4 933.3,182.6 935.6,182.9 937.8,183.1 940.1,183.3 942.4,183.4 944.6,183.5 946.9,183.5 949.1,183.5 951.4,183.5 953.6,183.4 955.9,183.3 958.2,183.1 960.4,182.9 962.7,182.7 964.9,182.5 967.2,182.2 969.4,181.8 971.7,181.4 973.9,181.0 976.1,180.6 978.4,180.1 980.6,179.6 982.9,179.1 985.1,178.5 987.3,177.9 989.5,177.3 991.8,176.7 994.0,176.0 996.2,175.3 998.4,174.5 1000.6,173.8 1002.8,173.0 1005.0,172.2 1007.2,171.3 1009.4,170.5 1011.6,169.6 1013.7,168.7 1015.9,167.8 1018.1,166.8 1020.2,165.8 1022.4,164.8 1024.5,163.8 1026.7,162.8 1028.8,161.8 1030.9,160.7 1033.0,159.6 1035.1,158.5 1037.2,157.4 1039.3,156.3 1041.4,155.1 1043.5,154.0 1045.6,152.8 1047.6,151.6 1049.7,150.4 1051.7,149.2 1053.8,148.0 1055.8,146.7 1057.8,145.5 1059.8,144.2 1061.8,143.0 1063.8,141.7 1065.8,140.5 1067.7,139.2 1069.7,137.9 1071.6,136.6 1073.6,135.3 1075.5,134.0 1077.4,132.7 1079.3,131.4 1081.2,130.1 1083.1,128.8 1084.9,127.5 1086.8,126.2 1088.6,124.9 1090.5,123.6 1092.3,122.2 1094.1,120.9 1096.0,119.6 1097.8,118.3 1099.6,117.0 1101.4,115.7 1103.2,114.3 1105.0,113.0 1106.9,111.7 1108.7,110.4 1110.5,109.0 1112.4,107.7 1114.2,106.3 1116.1,105.0 1118.0,103.7 1119.8,102.3 1121.7,101.0 1123.7,99.6 1125.6,98.3 1127.5,96.9 1129.5,95.6 1131.4,94.3 1133.4,93.0 1135.4,91.7 1137.4,90.4 1139.4,89.2 1141.5,87.9 1143.5,86.7 1145.6,85.6 1147.7,84.4 1149.8,83.3 1151.9,82.2 1154.0,81.2 1156.2,80.2 1158.3,79.2 1160.5,78.3 1162.7,77.4 1164.9,76.6 1167.1,75.9 1169.3,75.2 1171.5,74.5 1173.8,74.0 1176.0,73.5 1178.3,73.0 1180.5,72.7 1182.8,72.4 1185.0,72.2 1187.3,72.1 1189.6,72.1 1191.8,72.2 1194.1,72.3 1196.3,72.6 1198.6,72.9 1200.8,73.4 1203.1,73.9 1205.3,74.5 1207.5,75.1 1209.7,75.9 1211.8,76.7 1213.9,77.6 1216.0,78.5 1218.1,79.5 1220.1,80.6 1222.1,81.7 1224.0,82.9 1226.0,84.1 1227.8,85.4 1229.7,86.8 1231.5,88.2 1233.3,89.6 1235.1,91.1 1236.8,92.6 1238.5,94.2 1240.2,95.8 1241.9,97.5 1243.5,99.2 1245.1,100.9 1246.6,102.7 1248.2,104.5 1249.7,106.3 1251.2,108.1 1252.6,110.0 1254.0,111.9 1255.4,113.8 1256.8,115.8 1258.2,117.8 1259.5,119.7 1260.8,121.7 1262.0,123.7 1263.3,125.8 1264.5,127.8 1265.7,129.8 1266.9,131.9 1268.0,133.9 1269.2,136.0 1270.3,138.0 1271.3,140.1 1272.4,142.1 1273.5,144.2 1274.5,146.3 1275.5,148.4 1276.5,150.5 1277.5,152.6 1278.4,154.7 1279.4,156.8 1280.3,158.9 1281.2,161.0 1282.1,163.1 1283.0,165.2 1283.9,167.3 1284.8,169.5 1285.6,171.6 1286.5,173.7 1287.3,175.9 1288.1,178.0 1289.0,180.2 1289.8,182.3 1290.6,184.5 1291.4,186.6 1292.2,188.8 1293.0,190.9 1293.8,193.1 1294.6,195.3 1295.4,197.4 1296.2,199.6 1297.0,201.8 1297.8,204.0 1298.6,206.1 1299.4,208.3 1300.1,210.5 1300.9,212.7 1301.7,214.9 1302.5,217.0 1303.2,219.2 1304.0,221.4 1304.8,223.6 1305.5,225.8 1306.3,228.0 1307.0,230.2 1307.8,232.4 1308.5,234.6 1309.3,236.8 1310.0,239.0 1310.7,241.2 1311.5,243.4 1312.2,245.6 1312.9,247.8 1313.7,250.0 1314.4,252.3 1315.1,254.5 1315.8,256.7 1316.5,258.9 1317.3,261.1 1318.0,263.3 1318.7,265.6 1319.4,267.8 1320.1,270.0 1320.8,272.2 1321.5,274.4 1322.1,276.7 1322.8,278.9 1323.5,281.1 1324.2,283.3 1324.9,285.6 1325.5,287.8 1326.2,290.0 1326.9,292.2 1327.5,294.5 1328.2,296.7 1328.9,298.9 1329.5,301.2 1330.2,303.4 1330.8,305.6 1331.5,307.9 1332.1,310.1 1332.7,312.3 1333.4,314.6 1334.0,316.8 1334.7,319.0 1335.3,321.3 1335.9,323.5 1336.5,325.7 1337.2,328.0 1337.8,330.2 1338.4,332.4 1339.0,334.7 1339.6,336.9 1340.3,339.2 1340.9,341.4 1341.5,343.6 1342.1,345.9 1342.7,348.1 1343.3,350.4 1343.9,352.6 1344.5,354.8 1345.1,357.1 1345.7,359.3 1346.3,361.6 1346.9,363.8 1347.4,366.1 1348.0,368.3 1348.6,370.6 1349.2,372.8 1349.8,375.0 1350.4,377.3 1350.9,379.5 1351.5,381.8 1352.1,384.0 1352.7,386.3 1353.2,388.5 1353.8,390.8 1354.4,393.0 1355.0,395.3 1355.5,397.5 1356.1,399.8 1356.7,402.0 1357.2,404.3 1357.8,406.5 1358.3,408.8 1358.9,411.0 1359.5,413.3 1360.0,415.5 1360.6,417.8 1361.1,420.0 1361.7,422.3 1362.3,424.5 1362.8,426.8 1363.4,429.0 1363.9,431.3 1364.5,433.5 1365.0,435.8 1365.6,438.0 1366.1,440.3 1366.7,442.5 1367.2,444.8 1367.8,447.0 1368.3,449.3 1368.9,451.6 1369.4,453.8 1370.0,456.1 1370.5,458.3 1371.1,460.6 1371.6,462.8 1372.2,465.1 1372.7,467.3 1373.3,469.6 1373.8,471.8 1374.4,474.1 1374.9,476.3 1375.4,478.6 1376.0,480.9 1376.5,483.1 1377.1,485.4 1377.6,487.6 1378.2,489.9 1378.7,492.1 1379.3,494.4 1379.8,496.6 1380.4,498.9 1380.9,501.1 1381.5,503.4 1382.0,505.6 1382.6,507.9 1383.1,510.2 1383.7,512.4 1384.3,514.7 1384.8,516.9 1385.4,519.2 1385.9,521.4 1386.5,523.7 1387.0,525.9 1387.6,528.2 1388.1,530.4 1388.7,532.7 1389.3,534.9 1389.8,537.2 1390.4,539.4 1390.9,541.7 1391.5,544.0 1392.1,546.2 1392.6,548.5 1393.2,550.7 1393.7,553.0 1394.3,555.2 1394.9,557.5 1395.4,559.7 1396.0,562.0 1396.6,564.2 1397.1,566.5 1397.7,568.7 1398.3,571.0 1398.8,573.2 1399.4,575.5 1400.0,577.7 1400.6,580.0 1401.1,582.2 1401.7,584.5 1402.3,586.7 1402.9,589.0 1403.4,591.2 1404.0,593.5 1404.6,595.7 1405.2,597.9 1405.7,600.2 1406.3,602.4 1406.9,604.7 1407.5,606.9 1408.1,609.2 1408.7,611.4 1409.2,613.7 1409.8,615.9 1410.4,618.2 1411.0,620.4 1411.6,622.6 1412.2,624.9 1412.8,627.1 1413.4,629.4 1414.0,631.6 1414.6,633.9 1415.1,636.1 1415.7,638.3 1416.3,640.6 1416.9,642.8 1417.5,645.1 1418.1,647.3 1418.7,649.5 1419.4,651.8 1420.0,654.0 1420.6,656.3 1421.2,658.5 1421.8,660.7 1422.4,663.0 1423.0,665.2 1423.6,667.4 1424.2,669.7 1424.8,671.9 1425.4,674.2 1426.1,676.4 1426.7,678.6 1427.3,680.9 1427.9,683.1 1428.5,685.3 1429.1,687.6 1429.8,689.8 1430.4,692.0 1431.0,694.3 1431.6,696.5 1432.2,698.7 1432.9,701.0 1433.5,703.2 1434.1,705.4 1434.7,707.7 1435.4,709.9 1436.0,712.1 1436.6,714.4 1437.2,716.6 1437.9,718.8 1438.5,721.1 1439.1,723.3 1439.8,725.5 1440.4,727.8 1441.0,730.0 1441.6,732.2 1442.3,734.5 1442.9,736.7 1443.5,738.9 1444.2,741.1 1444.8,743.4 1445.5,745.6 1446.1,747.8 1446.7,750.1 1447.4,752.3 1448.0,754.5 1448.6,756.8 1449.3,759.0 1449.9,761.2 1450.5,763.5 1451.2,765.7 1451.8,767.9 1452.5,770.1 1453.1,772.4 1453.7,774.6 1454.4,776.8 1455.0,779.1 1455.7,781.3 1456.3,783.5 1457.0,785.8 1457.6,788.0 1458.2,790.2 1458.9,792.5 1459.5,794.7 1460.2,796.9 1460.8,799.1 1461.5,801.4 1462.1,803.6 1462.8,805.8 1463.4,808.1 1464.1,810.3 1464.7,812.5 1465.4,814.8 1466.0,817.0 1466.7,819.2 1467.3,821.4 1468.0,823.7 1468.7,825.9 1469.3,828.1 1470.0,830.3 1470.7,832.6 1471.3,834.8 1472.0,837.0 1472.7,839.2 1473.3,841.5 1474.0,843.7 1474.7,845.9 1475.4,848.1 1476.0,850.4 1476.7,852.6 1477.4,854.8 1478.1,857.0 1478.8,859.2 1479.5,861.5 1480.1,863.7 1480.8,865.9 1481.5,868.1 1482.2,870.3 1482.9,872.5 1483.6,874.8 1484.3,877.0 1485.0,879.2 1485.8,881.4 1486.5,883.6 1487.2,885.8 1487.9,888.0 1488.6,890.2 1489.3,892.4 1490.1,894.6 1490.8,896.9 1491.5,899.1 1492.2,901.3 1493.0,903.5 1493.7,905.7 1494.5,907.9 1495.2,910.1 1496.0,912.3 1496.7,914.5 1497.5,916.7 1498.2,918.9 1499.0,921.1 1499.7,923.3 1500.5,925.4 1501.3,927.6 1502.1,929.8 1502.8,932.0 1503.6,934.2 1504.4,936.4 1505.2,938.6 1506.0,940.8 1506.8,942.9 1507.6,945.1 1508.4,947.3 1509.2,949.5 1510.0,951.7 1510.8,953.8 1511.6,956.0 1512.4,958.2 1513.3,960.4 1514.1,962.5 1514.9,964.7 1515.8,966.9 1516.6,969.0 1517.5,971.2 1518.3,973.4 1519.2,975.5 1520.0,977.7 1520.9,979.8 1521.8,982.0 1522.6,984.1 1523.5,986.3 1524.4,988.5 1525.3,990.6 1526.2,992.7 1527.1,994.9 1528.0,997.0 1528.9,999.2 1529.8,1001.3 1530.7,1003.5 1531.7,1005.6 1532.6,1007.7 1533.5,1009.8 1534.5,1012.0 1535.4,1014.1 1536.4,1016.2 1537.4,1018.3 1538.3,1020.5 1539.3,1022.6 1540.3,1024.7 1541.3,1026.8 1542.3,1028.9 1543.3,1031.0 1544.3,1033.1 1545.3,1035.2 1546.3,1037.3 1547.3,1039.4 1548.4,1041.5 1549.4,1043.5 1550.4,1045.6 1551.5,1047.7 1552.6,1049.8 1553.6,1051.8 1554.7,1053.9 1555.8,1056.0 1556.9,1058.0 1558.0,1060.1 1559.1,1062.1 1560.2,1064.2 1561.3,1066.2 1562.5,1068.3 1563.6,1070.3 1564.7,1072.3 1565.9,1074.3 1567.1,1076.4 1568.2,1078.4 1569.4,1080.4 1570.6,1082.4 1571.8,1084.4 1573.0,1086.4 1574.2,1088.4 1575.5,1090.4 1576.7,1092.4 1577.9,1094.4 1579.2,1096.4 1580.5,1098.3 1581.7,1100.3 1583.0,1102.3 1584.3,1104.2 1585.6,1106.2 1586.9,1108.1 1588.2,1110.1 1589.5,1112.0 1590.8,1113.9 1592.2,1115.9 1593.5,1117.8 1594.8,1119.7 1596.2,1121.6 1597.5,1123.6 1598.9,1125.5 1600.2,1127.4 1601.6,1129.3 1603.0,1131.2 1604.3,1133.1 1605.7,1134.9 1607.1,1136.8 1608.5,1138.7 1609.8,1140.6 1611.2,1142.4 1612.6,1144.3 1614.0,1146.1 1615.4,1148.0 1616.8,1149.8 1618.2,1151.7 1619.6,1153.5 1621.0,1155.4 1622.4,1157.2 1623.8,1159.0 1625.2,1160.8 1626.6,1162.6 1628.0,1164.4 1629.5,1166.2 1630.9,1168.0 1632.4,1169.8 1633.9,1171.6 1635.3,1173.4 1636.8,1175.1 1638.4,1176.9 1639.9,1178.6 1641.5,1180.4 1643.0,1182.1 1644.6,1183.8 1646.2,1185.5 1647.8,1187.2 1649.4,1188.9 1651.0,1190.6 1652.7,1192.3 1654.4,1193.9 1656.0,1195.6 1657.7,1197.2 1659.4,1198.9 1661.1,1200.5 1662.9,1202.1 1664.6,1203.7 1666.4,1205.3 1668.1,1206.8 1669.9,1208.4 1671.7,1209.9 1673.5,1211.4 1675.3,1212.9 1677.2,1214.4 1679.0,1215.9 1680.8,1217.4 1682.7,1218.8 1684.6,1220.3 1686.5,1221.7 1688.4,1223.1 1690.3,1224.5 1692.2,1225.8 1694.2,1227.2 1696.1,1228.5 1698.1,1229.8 1700.0,1231.1 1702.0,1232.4 1704.0,1233.7 1706.0,1234.9 1708.0,1236.1 1710.0,1237.3 1712.1,1238.5 1714.1,1239.7 1716.2,1240.8 1718.2,1241.9 1720.3,1243.0 1722.4,1244.1 1724.5,1245.1 1726.6,1246.2 1728.7,1247.2 1730.8,1248.2 1732.9,1249.1 1735.1,1250.1 1737.2,1251.0 1739.4,1251.9 1741.5,1252.7 1743.7,1253.6 1745.9,1254.4 1748.1,1255.2 1750.3,1255.9 1752.5,1256.7 1754.7,1257.4 1756.9,1258.1 1759.1,1258.7 1761.4,1259.4 1763.6,1260.0 1765.9,1260.6 1768.1,1261.1 1770.4,1261.6 1772.7,1262.1 1775.0,1262.6 1777.3,1263.0 1779.6,1263.4 1781.9,1263.8 1784.2,1264.1 1786.5,1264.4 1788.8,1264.7 1791.1,1265.0 1793.5,1265.2 1795.8,1265.4 1798.2,1265.5 1800.5,1265.7 1802.9,1265.7 1805.2,1265.8" stroke="#0B0F88" stroke-width="13.5" stroke-dasharray="25.5 37.5" stroke-linecap="round"/>
<path d="M278.5,1265.5 280.8,1265.2 283.1,1264.8 285.4,1264.4 287.7,1264.1 290.0,1263.7 292.2,1263.3 294.5,1263.0 296.8,1262.6 299.1,1262.3 301.4,1261.9 303.7,1261.5 306.0,1261.2 308.3,1260.8 310.6,1260.4 312.8,1260.0 315.1,1259.6 317.4,1259.2 319.7,1258.8 322.0,1258.3 324.3,1257.9 326.5,1257.4 328.8,1256.9 331.1,1256.5 333.4,1256.0 335.6,1255.4 337.9,1254.9 340.2,1254.3 342.4,1253.7 344.7,1253.1 346.9,1252.5 349.2,1251.9 351.4,1251.2 353.7,1250.5 355.9,1249.8 358.1,1249.0 360.3,1248.2 362.5,1247.4 364.7,1246.5 366.8,1245.6 369.0,1244.7 371.1,1243.8 373.2,1242.8 375.3,1241.7 377.3,1240.6 379.4,1239.5 381.4,1238.3 383.4,1237.1 385.3,1235.9 387.3,1234.6 389.2,1233.3 391.0,1231.9 392.9,1230.5 394.7,1229.1 396.5,1227.6 398.3,1226.1 400.1,1224.6 401.8,1223.0 403.6,1221.5 405.3,1219.9 406.9,1218.2 408.6,1216.6 410.2,1214.9 411.9,1213.3 413.5,1211.6 415.0,1209.9 416.6,1208.1 418.1,1206.4 419.7,1204.7 421.2,1202.9 422.7,1201.1 424.1,1199.4 425.6,1197.6 427.0,1195.8 428.5,1193.9 429.9,1192.1 431.2,1190.3 432.6,1188.4 434.0,1186.6 435.3,1184.7 436.6,1182.8 437.9,1180.9 439.2,1179.0 440.5,1177.1 441.8,1175.2 443.0,1173.2 444.3,1171.3 445.5,1169.3 446.7,1167.4 447.9,1165.4 449.1,1163.4 450.3,1161.4 451.4,1159.4 452.6,1157.4 453.7,1155.4 454.8,1153.4 455.9,1151.4 457.0,1149.4 458.1,1147.3 459.2,1145.3 460.3,1143.2 461.4,1141.2 462.4,1139.1 463.4,1137.1 464.5,1135.0 465.5,1132.9 466.5,1130.8 467.5,1128.8 468.5,1126.7 469.5,1124.6 470.5,1122.5 471.5,1120.4 472.4,1118.3 473.4,1116.2 474.4,1114.1 475.3,1111.9 476.2,1109.8 477.2,1107.7 478.1,1105.6 479.0,1103.5 479.9,1101.3 480.9,1099.2 481.8,1097.1 482.7,1094.9 483.6,1092.8 484.4,1090.7 485.3,1088.5 486.2,1086.4 487.1,1084.2 487.9,1082.1 488.8,1079.9 489.6,1077.8 490.5,1075.6 491.3,1073.5 492.2,1071.3 493.0,1069.1 493.8,1067.0 494.6,1064.8 495.4,1062.6 496.2,1060.5 497.0,1058.3 497.8,1056.1 498.6,1053.9 499.4,1051.8 500.2,1049.6 500.9,1047.4 501.7,1045.2 502.5,1043.0 503.2,1040.8 504.0,1038.6 504.7,1036.5 505.4,1034.3 506.2,1032.1 506.9,1029.9 507.6,1027.7 508.3,1025.5 509.0,1023.3 509.7,1021.0 510.4,1018.8 511.1,1016.6 511.8,1014.4 512.5,1012.2 513.2,1010.0 513.8,1007.8 514.5,1005.6 515.2,1003.3 515.8,1001.1 516.5,998.9 517.1,996.7 517.8,994.4 518.4,992.2 519.0,990.0 519.7,987.7 520.3,985.5 520.9,983.3 521.5,981.0 522.1,978.8 522.7,976.6 523.3,974.3 523.9,972.1 524.5,969.9 525.1,967.6 525.7,965.4 526.3,963.1 526.9,960.9 527.5,958.6 528.0,956.4 528.6,954.1 529.2,951.9 529.7,949.6 530.3,947.4 530.8,945.1 531.4,942.9 531.9,940.6 532.5,938.4 533.0,936.1 533.6,933.8 534.1,931.6 534.6,929.3 535.2,927.1 535.7,924.8 536.2,922.5 536.7,920.3 537.3,918.0 537.8,915.8 538.3,913.5 538.8,911.2 539.3,909.0 539.8,906.7 540.3,904.4 540.8,902.2 541.3,899.9 541.8,897.6 542.3,895.3 542.8,893.1 543.3,890.8 543.8,888.5 544.3,886.3 544.8,884.0 545.3,881.7 545.8,879.5 546.3,877.2 546.8,874.9 547.3,872.6 547.7,870.4 548.2,868.1 548.7,865.8 549.2,863.5 549.7,861.3 550.1,859.0 550.6,856.7 551.1,854.4 551.6,852.2 552.1,849.9 552.5,847.6 553.0,845.3 553.5,843.1 553.9,840.8 554.4,838.5 554.9,836.2 555.3,834.0 555.8,831.7 556.3,829.4 556.7,827.1 557.2,824.9 557.7,822.6 558.1,820.3 558.6,818.0 559.0,815.8 559.5,813.5 560.0,811.2 560.4,808.9 560.9,806.6 561.3,804.4 561.8,802.1 562.2,799.8 562.7,797.5 563.1,795.3 563.5,793.0 564.0,790.7 564.4,788.4 564.9,786.1 565.3,783.9 565.8,781.6 566.2,779.3 566.6,777.0 567.1,774.7 567.5,772.5 567.9,770.2 568.4,767.9 568.8,765.6 569.2,763.3 569.6,761.0 570.1,758.8 570.5,756.5 570.9,754.2 571.3,751.9 571.7,749.6 572.2,747.3 572.6,745.1 573.0,742.8 573.4,740.5 573.8,738.2 574.2,735.9 574.6,733.6 575.0,731.4 575.4,729.1 575.9,726.8 576.3,724.5 576.7,722.2 577.1,719.9 577.5,717.7 577.8,715.4 578.2,713.1 578.6,710.8 579.0,708.5 579.4,706.2 579.8,703.9 580.2,701.6 580.6,699.4 581.0,697.1 581.4,694.8 581.7,692.5 582.1,690.2 582.5,687.9 582.9,685.6 583.3,683.3 583.6,681.1 584.0,678.8 584.4,676.5 584.8,674.2 585.1,671.9 585.5,669.6 585.9,667.3 586.3,665.0 586.6,662.7 587.0,660.5 587.4,658.2 587.7,655.9 588.1,653.6 588.5,651.3 588.8,649.0 589.2,646.7 589.6,644.4 589.9,642.1 590.3,639.8 590.7,637.6 591.0,635.3 591.4,633.0 591.8,630.7 592.1,628.4 592.5,626.1 592.8,623.8 593.2,621.5 593.5,619.2 593.9,616.9 594.3,614.6 594.6,612.4 595.0,610.1 595.3,607.8 595.7,605.5 596.0,603.2 596.4,600.9 596.8,598.6 597.1,596.3 597.5,594.0 597.8,591.7 598.2,589.4 598.5,587.1 598.9,584.8 599.2,582.6 599.6,580.3 600.0,578.0 600.3,575.7 600.7,573.4 601.0,571.1 601.4,568.8 601.7,566.5 602.1,564.2 602.4,561.9 602.8,559.6 603.1,557.3 603.5,555.0 603.9,552.7 604.2,550.5 604.6,548.2 604.9,545.9 605.3,543.6 605.6,541.3 606.0,539.0 606.4,536.7 606.7,534.4 607.1,532.1 607.4,529.8 607.8,527.5 608.1,525.2 608.5,522.9 608.9,520.6 609.2,518.3 609.6,516.1 610.0,513.8 610.3,511.5 610.7,509.2 611.0,506.9 611.4,504.6 611.8,502.3 612.1,500.0 612.5,497.7 612.9,495.4 613.3,493.1 613.6,490.8 614.0,488.5 614.4,486.2 614.7,483.9 615.1,481.7 615.5,479.4 615.9,477.1 616.2,474.8 616.6,472.5 617.0,470.2 617.4,467.9 617.7,465.6 618.1,463.3 618.5,461.0 618.9,458.7 619.3,456.4 619.7,454.1 620.1,451.9 620.4,449.6 620.8,447.3 621.2,445.0 621.6,442.7 622.0,440.4 622.4,438.1 622.8,435.8 623.2,433.5 623.6,431.2 624.0,429.0 624.4,426.7 624.8,424.4 625.2,422.1 625.6,419.8 626.0,417.5 626.4,415.2 626.8,412.9 627.2,410.6 627.6,408.4 628.1,406.1 628.5,403.8 628.9,401.5 629.3,399.2 629.7,396.9 630.1,394.6 630.6,392.4 631.0,390.1 631.4,387.8 631.8,385.5 632.3,383.2 632.7,380.9 633.1,378.7 633.6,376.4 634.0,374.1 634.4,371.8 634.9,369.5 635.3,367.3 635.8,365.0 636.2,362.7 636.7,360.4 637.1,358.1 637.6,355.9 638.0,353.6 638.5,351.3 638.9,349.0 639.4,346.8 639.8,344.5 640.3,342.2 640.8,339.9 641.2,337.7 641.7,335.4 642.2,333.1 642.6,330.8 643.1,328.6 643.6,326.3 644.1,324.0 644.5,321.8 645.0,319.5 645.5,317.2 646.0,314.9 646.5,312.7 647.0,310.4 647.5,308.1 648.0,305.9 648.5,303.6 649.0,301.3 649.5,299.1 650.0,296.8 650.5,294.6 651.0,292.3 651.5,290.0 652.0,287.8 652.5,285.5 653.1,283.3 653.6,281.0 654.1,278.7 654.6,276.5 655.2,274.2 655.7,272.0 656.2,269.7 656.8,267.5 657.3,265.2 657.8,263.0 658.4,260.7 658.9,258.5 659.5,256.2 660.0,254.0 660.6,251.7 661.2,249.5 661.7,247.2 662.3,245.0 662.8,242.7 663.4,240.5 664.0,238.2 664.6,236.0 665.1,233.7 665.7,231.5 666.3,229.3 666.9,227.0 667.5,224.8 668.1,222.6 668.7,220.3 669.3,218.1 669.9,215.8 670.5,213.6 671.1,211.4 671.7,209.2 672.4,206.9 673.0,204.7 673.6,202.5 674.3,200.3 675.0,198.0 675.6,195.8 676.3,193.6 677.0,191.4 677.7,189.2 678.4,187.0 679.1,184.8 679.8,182.6 680.5,180.4 681.2,178.2 682.0,176.0 682.7,173.8 683.5,171.6 684.3,169.4 685.1,167.2 685.9,165.0 686.7,162.8 687.5,160.7 688.4,158.5 689.2,156.3 690.1,154.2 691.0,152.0 691.9,149.8 692.8,147.7 693.7,145.5 694.6,143.4 695.6,141.2 696.6,139.1 697.6,137.0 698.6,134.8 699.6,132.7 700.7,130.6 701.8,128.6 702.9,126.5 704.0,124.5 705.2,122.4 706.5,120.5 707.8,118.5 709.1,116.6 710.5,114.7 711.9,112.8 713.4,111.0 714.9,109.3 716.5,107.6 718.1,105.9 719.8,104.3 721.6,102.8 723.4,101.4 725.3,100.0 727.2,98.7 729.2,97.6 731.2,96.5 733.3,95.5 735.4,94.6 737.5,93.9 739.7,93.2 741.9,92.6 744.1,92.2 746.3,91.9 748.6,91.7 750.8,91.6 753.1,91.7 755.3,91.9 757.6,92.2 759.9,92.6 762.2,93.1 764.4,93.7 766.7,94.4 768.9,95.2 771.1,96.0 773.3,96.9 775.5,97.9 777.6,98.9 779.7,99.9 781.8,101.0 783.9,102.2 785.9,103.3 787.9,104.5 789.8,105.7 791.8,107.0 793.7,108.3 795.6,109.6 797.4,110.9 799.3,112.2 801.1,113.5 802.9,114.9 804.7,116.3 806.5,117.7 808.3,119.1 810.1,120.5 811.9,121.9 813.7,123.4 815.4,124.8 817.2,126.2 819.0,127.7 820.8,129.1 822.6,130.5 824.4,131.9 826.2,133.4 828.1,134.8 829.9,136.2 831.8,137.6 833.7,139.0 835.6,140.3 837.5,141.7 839.4,143.1 841.4,144.4 843.3,145.7 845.3,147.1 847.3,148.4 849.2,149.6 851.2,150.9 853.2,152.2 855.3,153.4 857.3,154.7 859.3,155.9 861.4,157.1 863.5,158.2 865.5,159.4 867.6,160.5 869.7,161.6 871.8,162.7 873.9,163.8 876.1,164.9 878.2,165.9 880.3,166.9 882.5,167.9 884.6,168.8 886.8,169.8 888.9,170.7 891.1,171.6 893.3,172.4 895.5,173.3 897.7,174.1 899.9,174.8 902.1,175.6 904.3,176.3 906.5,177.0 908.7,177.6 910.9,178.3 913.2,178.8 915.4,179.4 917.6,179.9 919.9,180.4 922.1,180.9 924.3,181.3 926.6,181.7 928.8,182.1 931.1,182.4 933.3,182.6 935.6,182.9 937.8,183.1 940.1,183.3 942.4,183.4 944.6,183.5 946.9,183.5 949.1,183.5 951.4,183.5 953.6,183.4 955.9,183.3 958.2,183.1 960.4,182.9 962.7,182.7 964.9,182.5 967.2,182.2 969.4,181.8 971.7,181.4 973.9,181.0 976.1,180.6 978.4,180.1 980.6,179.6 982.9,179.1 985.1,178.5 987.3,177.9 989.5,177.3 991.8,176.7 994.0,176.0 996.2,175.3 998.4,174.5 1000.6,173.8 1002.8,173.0 1005.0,172.2 1007.2,171.3 1009.4,170.5 1011.6,169.6 1013.7,168.7 1015.9,167.8 1018.1,166.8 1020.2,165.8 1022.4,164.8 1024.5,163.8 1026.7,162.8 1028.8,161.8 1030.9,160.7 1033.0,159.6 1035.1,158.5 1037.2,157.4 1039.3,156.3 1041.4,155.1 1043.5,154.0 1045.6,152.8 1047.6,151.6 1049.7,150.4 1051.7,149.2 1053.8,148.0 1055.8,146.7 1057.8,145.5 1059.8,144.2 1061.8,143.0 1063.8,141.7 1065.8,140.5 1067.7,139.2 1069.7,137.9 1071.6,136.6 1073.6,135.3 1075.5,134.0 1077.4,132.7 1079.3,131.4 1081.2,130.1 1083.1,128.8 1084.9,127.5 1086.8,126.2 1088.6,124.9 1090.5,123.6 1092.3,122.2 1094.1,120.9 1096.0,119.6 1097.8,118.3 1099.6,117.0 1101.4,115.7 1103.2,114.3 1105.0,113.0 1106.9,111.7 1108.7,110.4 1110.5,109.0 1112.4,107.7 1114.2,106.3 1116.1,105.0 1118.0,103.7 1119.8,102.3 1121.7,101.0 1123.7,99.6 1125.6,98.3 1127.5,96.9 1129.5,95.6 1131.4,94.3 1133.4,93.0 1135.4,91.7 1137.4,90.4 1139.4,89.2 1141.5,87.9 1143.5,86.7 1145.6,85.6 1147.7,84.4 1149.8,83.3 1151.9,82.2 1154.0,81.2 1156.2,80.2 1158.3,79.2 1160.5,78.3 1162.7,77.4 1164.9,76.6 1167.1,75.9 1169.3,75.2 1171.5,74.5 1173.8,74.0 1176.0,73.5 1178.3,73.0 1180.5,72.7 1182.8,72.4 1185.0,72.2 1187.3,72.1 1189.6,72.1 1191.8,72.2 1194.1,72.3 1196.3,72.6 1198.6,72.9 1200.8,73.4 1203.1,73.9 1205.3,74.5 1207.5,75.1 1209.7,75.9 1211.8,76.7 1213.9,77.6 1216.0,78.5 1218.1,79.5 1220.1,80.6 1222.1,81.7 1224.0,82.9 1226.0,84.1 1227.8,85.4 1229.7,86.8 1231.5,88.2 1233.3,89.6 1235.1,91.1 1236.8,92.6 1238.5,94.2 1240.2,95.8 1241.9,97.5 1243.5,99.2 1245.1,100.9 1246.6,102.7 1248.2,104.5 1249.7,106.3 1251.2,108.1 1252.6,110.0 1254.0,111.9 1255.4,113.8 1256.8,115.8 1258.2,117.8 1259.5,119.7 1260.8,121.7 1262.0,123.7 1263.3,125.8 1264.5,127.8 1265.7,129.8 1266.9,131.9 1268.0,133.9 1269.2,136.0 1270.3,138.0 1271.3,140.1 1272.4,142.1 1273.5,144.2 1274.5,146.3 1275.5,148.4 1276.5,150.5 1277.5,152.6 1278.4,154.7 1279.4,156.8 1280.3,158.9 1281.2,161.0 1282.1,163.1 1283.0,165.2 1283.9,167.3 1284.8,169.5 1285.6,171.6 1286.5,173.7 1287.3,175.9 1288.1,178.0 1289.0,180.2 1289.8,182.3 1290.6,184.5 1291.4,186.6 1292.2,188.8 1293.0,190.9 1293.8,193.1 1294.6,195.3 1295.4,197.4 1296.2,199.6 1297.0,201.8 1297.8,204.0 1298.6,206.1 1299.4,208.3 1300.1,210.5 1300.9,212.7 1301.7,214.9 1302.5,217.0 1303.2,219.2 1304.0,221.4 1304.8,223.6 1305.5,225.8 1306.3,228.0 1307.0,230.2 1307.8,232.4 1308.5,234.6 1309.3,236.8 1310.0,239.0 1310.7,241.2 1311.5,243.4 1312.2,245.6 1312.9,247.8 1313.7,250.0 1314.4,252.3 1315.1,254.5 1315.8,256.7 1316.5,258.9 1317.3,261.1 1318.0,263.3 1318.7,265.6 1319.4,267.8 1320.1,270.0 1320.8,272.2 1321.5,274.4 1322.1,276.7 1322.8,278.9 1323.5,281.1 1324.2,283.3 1324.9,285.6 1325.5,287.8 1326.2,290.0 1326.9,292.2 1327.5,294.5 1328.2,296.7 1328.9,298.9 1329.5,301.2 1330.2,303.4 1330.8,305.6 1331.5,307.9 1332.1,310.1 1332.7,312.3 1333.4,314.6 1334.0,316.8 1334.7,319.0 1335.3,321.3 1335.9,323.5 1336.5,325.7 1337.2,328.0 1337.8,330.2 1338.4,332.4 1339.0,334.7 1339.6,336.9 1340.3,339.2 1340.9,341.4 1341.5,343.6 1342.1,345.9 1342.7,348.1 1343.3,350.4 1343.9,352.6 1344.5,354.8 1345.1,357.1 1345.7,359.3 1346.3,361.6 1346.9,363.8 1347.4,366.1 1348.0,368.3 1348.6,370.6 1349.2,372.8 1349.8,375.0 1350.4,377.3 1350.9,379.5 1351.5,381.8 1352.1,384.0 1352.7,386.3 1353.2,388.5 1353.8,390.8 1354.4,393.0 1355.0,395.3 1355.5,397.5 1356.1,399.8 1356.7,402.0 1357.2,404.3 1357.8,406.5 1358.3,408.8 1358.9,411.0 1359.5,413.3 1360.0,415.5 1360.6,417.8 1361.1,420.0 1361.7,422.3 1362.3,424.5 1362.8,426.8 1363.4,429.0 1363.9,431.3 1364.5,433.5 1365.0,435.8 1365.6,438.0 1366.1,440.3 1366.7,442.5 1367.2,444.8 1367.8,447.0 1368.3,449.3 1368.9,451.6 1369.4,453.8 1370.0,456.1 1370.5,458.3 1371.1,460.6 1371.6,462.8 1372.2,465.1 1372.7,467.3 1373.3,469.6 1373.8,471.8 1374.4,474.1 1374.9,476.3 1375.4,478.6 1376.0,480.9 1376.5,483.1 1377.1,485.4 1377.6,487.6 1378.2,489.9 1378.7,492.1 1379.3,494.4 1379.8,496.6 1380.4,498.9 1380.9,501.1 1381.5,503.4 1382.0,505.6 1382.6,507.9 1383.1,510.2 1383.7,512.4 1384.3,514.7 1384.8,516.9 1385.4,519.2 1385.9,521.4 1386.5,523.7 1387.0,525.9 1387.6,528.2 1388.1,530.4 1388.7,532.7 1389.3,534.9 1389.8,537.2 1390.4,539.4 1390.9,541.7 1391.5,544.0 1392.1,546.2 1392.6,548.5 1393.2,550.7 1393.7,553.0 1394.3,555.2 1394.9,557.5 1395.4,559.7 1396.0,562.0 1396.6,564.2 1397.1,566.5 1397.7,568.7 1398.3,571.0 1398.8,573.2 1399.4,575.5 1400.0,577.7 1400.6,580.0 1401.1,582.2 1401.7,584.5 1402.3,586.7 1402.9,589.0 1403.4,591.2 1404.0,593.5 1404.6,595.7 1405.2,597.9 1405.7,600.2 1406.3,602.4 1406.9,604.7 1407.5,606.9 1408.1,609.2 1408.7,611.4 1409.2,613.7 1409.8,615.9 1410.4,618.2 1411.0,620.4 1411.6,622.6 1412.2,624.9 1412.8,627.1 1413.4,629.4 1414.0,631.6 1414.6,633.9 1415.1,636.1 1415.7,638.3 1416.3,640.6 1416.9,642.8 1417.5,645.1 1418.1,647.3 1418.7,649.5 1419.4,651.8 1420.0,654.0 1420.6,656.3 1421.2,658.5 1421.8,660.7 1422.4,663.0 1423.0,665.2 1423.6,667.4 1424.2,669.7 1424.8,671.9 1425.4,674.2 1426.1,676.4 1426.7,678.6 1427.3,680.9 1427.9,683.1 1428.5,685.3 1429.1,687.6 1429.8,689.8 1430.4,692.0 1431.0,694.3 1431.6,696.5 1432.2,698.7 1432.9,701.0 1433.5,703.2 1434.1,705.4 1434.7,707.7 1435.4,709.9 1436.0,712.1 1436.6,714.4 1437.2,716.6 1437.9,718.8 1438.5,721.1 1439.1,723.3 1439.8,725.5 1440.4,727.8 1441.0,730.0 1441.6,732.2 1442.3,734.5 1442.9,736.7 1443.5,738.9 1444.2,741.1 1444.8,743.4 1445.5,745.6 1446.1,747.8 1446.7,750.1 1447.4,752.3 1448.0,754.5 1448.6,756.8 1449.3,759.0 1449.9,761.2 1450.5,763.5 1451.2,765.7 1451.8,767.9 1452.5,770.1 1453.1,772.4 1453.7,774.6 1454.4,776.8 1455.0,779.1 1455.7,781.3 1456.3,783.5 1457.0,785.8 1457.6,788.0 1458.2,790.2 1458.9,792.5 1459.5,794.7 1460.2,796.9 1460.8,799.1 1461.5,801.4 1462.1,803.6 1462.8,805.8 1463.4,808.1 1464.1,810.3 1464.7,812.5 1465.4,814.8 1466.0,817.0 1466.7,819.2 1467.3,821.4 1468.0,823.7 1468.7,825.9 1469.3,828.1 1470.0,830.3 1470.7,832.6 1471.3,834.8 1472.0,837.0 1472.7,839.2 1473.3,841.5 1474.0,843.7 1474.7,845.9 1475.4,848.1 1476.0,850.4 1476.7,852.6 1477.4,854.8 1478.1,857.0 1478.8,859.2 1479.5,861.5 1480.1,863.7 1480.8,865.9 1481.5,868.1 1482.2,870.3 1482.9,872.5 1483.6,874.8 1484.3,877.0 1485.0,879.2 1485.8,881.4 1486.5,883.6 1487.2,885.8 1487.9,888.0 1488.6,890.2 1489.3,892.4 1490.1,894.6 1490.8,896.9 1491.5,899.1 1492.2,901.3 1493.0,903.5 1493.7,905.7 1494.5,907.9 1495.2,910.1 1496.0,912.3 1496.7,914.5 1497.5,916.7 1498.2,918.9 1499.0,921.1 1499.7,923.3 1500.5,925.4 1501.3,927.6 1502.1,929.8 1502.8,932.0 1503.6,934.2 1504.4,936.4 1505.2,938.6 1506.0,940.8 1506.8,942.9 1507.6,945.1 1508.4,947.3 1509.2,949.5 1510.0,951.7 1510.8,953.8 1511.6,956.0 1512.4,958.2 1513.3,960.4 1514.1,962.5 1514.9,964.7 1515.8,966.9 1516.6,969.0 1517.5,971.2 1518.3,973.4 1519.2,975.5 1520.0,977.7 1520.9,979.8 1521.8,982.0 1522.6,984.1 1523.5,986.3 1524.4,988.5 1525.3,990.6 1526.2,992.7 1527.1,994.9 1528.0,997.0 1528.9,999.2 1529.8,1001.3 1530.7,1003.5 1531.7,1005.6 1532.6,1007.7 1533.5,1009.8 1534.5,1012.0 1535.4,1014.1 1536.4,1016.2 1537.4,1018.3 1538.3,1020.5 1539.3,1022.6 1540.3,1024.7 1541.3,1026.8 1542.3,1028.9 1543.3,1031.0 1544.3,1033.1 1545.3,1035.2 1546.3,1037.3 1547.3,1039.4 1548.4,1041.5 1549.4,1043.5 1550.4,1045.6 1551.5,1047.7 1552.6,1049.8 1553.6,1051.8 1554.7,1053.9 1555.8,1056.0 1556.9,1058.0 1558.0,1060.1 1559.1,1062.1 1560.2,1064.2 1561.3,1066.2 1562.5,1068.3 1563.6,1070.3 1564.7,1072.3 1565.9,1074.3 1567.1,1076.4 1568.2,1078.4 1569.4,1080.4 1570.6,1082.4 1571.8,1084.4 1573.0,1086.4 1574.2,1088.4 1575.5,1090.4 1576.7,1092.4 1577.9,1094.4 1579.2,1096.4 1580.5,1098.3 1581.7,1100.3 1583.0,1102.3 1584.3,1104.2 1585.6,1106.2 1586.9,1108.1 1588.2,1110.1 1589.5,1112.0 1590.8,1113.9 1592.2,1115.9 1593.5,1117.8 1594.8,1119.7 1596.2,1121.6 1597.5,1123.6 1598.9,1125.5 1600.2,1127.4 1601.6,1129.3 1603.0,1131.2 1604.3,1133.1 1605.7,1134.9 1607.1,1136.8 1608.5,1138.7 1609.8,1140.6 1611.2,1142.4 1612.6,1144.3 1614.0,1146.1 1615.4,1148.0 1616.8,1149.8 1618.2,1151.7 1619.6,1153.5 1621.0,1155.4 1622.4,1157.2 1623.8,1159.0 1625.2,1160.8 1626.6,1162.6 1628.0,1164.4 1629.5,1166.2 1630.9,1168.0 1632.4,1169.8 1633.9,1171.6 1635.3,1173.4 1636.8,1175.1 1638.4,1176.9 1639.9,1178.6 1641.5,1180.4 1643.0,1182.1 1644.6,1183.8 1646.2,1185.5 1647.8,1187.2 1649.4,1188.9 1651.0,1190.6 1652.7,1192.3 1654.4,1193.9 1656.0,1195.6 1657.7,1197.2 1659.4,1198.9 1661.1,1200.5 1662.9,1202.1 1664.6,1203.7 1666.4,1205.3 1668.1,1206.8 1669.9,1208.4 1671.7,1209.9 1673.5,1211.4 1675.3,1212.9 1677.2,1214.4 1679.0,1215.9 1680.8,1217.4 1682.7,1218.8 1684.6,1220.3 1686.5,1221.7 1688.4,1223.1 1690.3,1224.5 1692.2,1225.8 1694.2,1227.2 1696.1,1228.5 1698.1,1229.8 1700.0,1231.1 1702.0,1232.4 1704.0,1233.7 1706.0,1234.9 1708.0,1236.1 1710.0,1237.3 1712.1,1238.5 1714.1,1239.7 1716.2,1240.8 1718.2,1241.9 1720.3,1243.0 1722.4,1244.1 1724.5,1245.1 1726.6,1246.2 1728.7,1247.2 1730.8,1248.2 1732.9,1249.1 1735.1,1250.1 1737.2,1251.0 1739.4,1251.9 1741.5,1252.7 1743.7,1253.6 1745.9,1254.4 1748.1,1255.2 1750.3,1255.9 1752.5,1256.7 1754.7,1257.4 1756.9,1258.1 1759.1,1258.7 1761.4,1259.4 1763.6,1260.0 1765.9,1260.6 1768.1,1261.1 1770.4,1261.6 1772.7,1262.1 1775.0,1262.6 1777.3,1263.0 1779.6,1263.4 1781.9,1263.8 1784.2,1264.1 1786.5,1264.4 1788.8,1264.7 1791.1,1265.0 1793.5,1265.2 1795.8,1265.4 1798.2,1265.5 1800.5,1265.7 1802.9,1265.7 1805.2,1265.8" stroke="#FF0000" stroke-width="8"/>
<line x1="278.5" y1="1275.5" x2="1808.0" y2="1275.5" stroke="#00DD00" stroke-width="12"/>
</g>
<g shape-rendering="crispEdges">
<rect x="252" y="65.6" width="1556" height="3" fill="#000"/>
<rect x="276" y="65" width="3" height="1238" fill="#000"/>
<rect x="276" y="1297" width="1535" height="3" fill="#222"/>
<rect x="1805" y="65" width="3" height="1235" fill="#222"/>
</g>
<path d="M407.8,1301.5V1323.5M733.5,1301.5V1323.5M1059.2,1301.5V1323.5M1384.8,1301.5V1323.5M1710.5,1301.5V1323.5M570.6,1301.5V1311.5M896.3,1301.5V1311.5M1222.0,1301.5V1311.5M1547.7,1301.5V1311.5" stroke="#2a2a2a" stroke-width="5" fill="none"/>
<path d="M276.5,1273.3H252.0M276.5,1031.4H252.0M276.5,789.5H252.0M276.5,547.6H252.0M276.5,305.7H252.0M276.5,1152.3H264.5M276.5,910.5H264.5M276.5,668.5H264.5M276.5,426.7H264.5M276.5,184.8H264.5" stroke="#a0a0a0" stroke-width="2.6" fill="none"/>
<path d="M276.5,1276.1H252.0M276.5,1034.2H252.0M276.5,792.3H252.0M276.5,550.4H252.0M276.5,308.5H252.0M276.5,1155.1H264.5M276.5,913.3H264.5M276.5,671.4H264.5M276.5,429.5H264.5M276.5,187.6H264.5" stroke="#000" stroke-width="3" fill="none"/>
<g font-family="'Liberation Serif','Times New Roman',serif" font-weight="bold" font-size="85" fill="#000">
<text transform="translate(408.1,1405.6) scale(0.94,1)" text-anchor="middle">0.5</text>
<text transform="translate(733.8,1405.6) scale(0.94,1)" text-anchor="middle">1.0</text>
<text transform="translate(1059.5,1405.6) scale(0.94,1)" text-anchor="middle">1.5</text>
<text transform="translate(1385.1,1405.6) scale(0.94,1)" text-anchor="middle">2.0</text>
<text transform="translate(1710.8,1405.6) scale(0.94,1)" text-anchor="middle">2.5</text>
<text transform="translate(236.5,1301.1) scale(0.94,1)" text-anchor="end">0.0</text>
<text transform="translate(236.5,1059.2) scale(0.94,1)" text-anchor="end">0.2</text>
<text transform="translate(236.5,817.3) scale(0.94,1)" text-anchor="end">0.4</text>
<text transform="translate(236.5,575.4) scale(0.94,1)" text-anchor="end">0.6</text>
<text transform="translate(236.5,333.5) scale(0.94,1)" text-anchor="end">0.8</text>
<text transform="translate(236.5,91.6) scale(0.94,1)" text-anchor="end">1.0</text>
</g>
<g font-family="'Liberation Serif','Times New Roman',serif" font-weight="bold" fill="#000">
<text x="1076.2" y="1519" font-size="87.6" text-anchor="middle">Frequency (THz)</text>
<text transform="translate(94.7,684) rotate(-90)" font-size="86.5" text-anchor="middle">Absorption</text>
</g>
<g fill="none" stroke-linecap="round">
<line x1="753.5" y1="607.7" x2="950" y2="607.7" stroke="#8000FF" stroke-width="12"/>
<line x1="753.5" y1="717" x2="950" y2="717" stroke="#00DD00" stroke-width="12"/>
<path d="M753.5,825.3H778.0M816.5,825.3H841.0M879.5,825.3H904.0M942.5,825.3H950.5" stroke="#0B0F88" stroke-width="14"/>
<line x1="754.5" y1="934.8" x2="950" y2="934.8" stroke="#FF0000" stroke-width="9"/>
</g>
<g font-family="'Liberation Serif','Times New Roman',serif" font-weight="bold" font-size="89" fill="#000">
<text x="971" y="638.6">R</text>
<text x="971" y="747.3">T</text>
<text x="971" y="855.2">A(TE)</text>
<text x="971" y="963.8">A(TM)</text>
</g>
</svg>
</body></html>
